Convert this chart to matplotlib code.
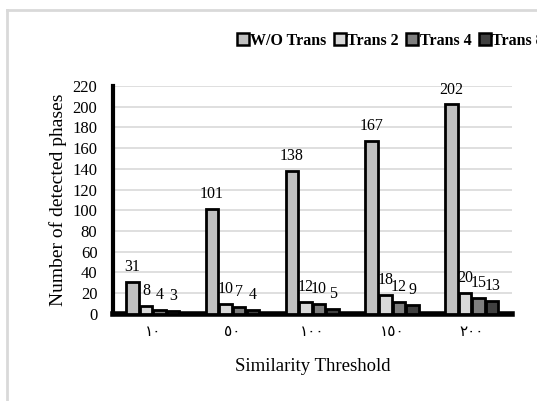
import matplotlib
matplotlib.use("Agg")
import matplotlib.pyplot as plt
from matplotlib.lines import Line2D
import numpy as np

# data
thresholds = ["١٠", "٥٠", "١٠٠", "١٥٠", "٢٠٠"]
series_names = ["W/O Trans", "Trans 2", "Trans 4", "Trans 8"]
wo_trans = [31, 101, 138, 167, 202]
trans_2 = [8, 10, 12, 18, 20]
trans_4 = [4, 7, 10, 12, 15]
trans_8 = [3, 4, 5, 9, 13]

colors = ["#c0c0c0", "#d9d9d9", "#7f7f7f", "#404040"]
serif = ["Liberation Serif", "DejaVu Sans"]

plt.rcParams["font.family"] = serif

fig = plt.figure(figsize=(5.37, 4.01), dpi=100)
ax = fig.add_axes([0.210, 0.217, 0.743, 0.569])

x = np.arange(len(thresholds))
w = 0.17
all_series = [wo_trans, trans_2, trans_4, trans_8]
for i, vals in enumerate(all_series):
    pos = x + (i - 1.5) * w
    ax.bar(pos, vals, width=w * 0.92, color=colors[i], edgecolor="black",
           linewidth=2, zorder=3, label=series_names[i])
    for xp, v in zip(pos, vals):
        ax.annotate(str(v), (xp, v), xytext=(0, 5), textcoords="offset points",
                    ha="center", va="bottom", fontsize=11.5, family=serif)

ax.set_ylim(0, 220)
ax.set_xlim(-0.5, len(thresholds) - 0.5)
ax.set_yticks(range(0, 221, 20))
ax.set_xticks(x)
ax.set_xticklabels(thresholds, family=serif)
ax.tick_params(axis="both", length=0, labelsize=12)
ax.tick_params(axis="y", pad=11)
ax.tick_params(axis="x", pad=9, labelsize=11)
ax.grid(axis="y", color="#d9d9d9", linewidth=1.2, zorder=0)

for s in ["top", "right"]:
    ax.spines[s].set_visible(False)
ax.spines["left"].set_linewidth(3)
ax.spines["bottom"].set_linewidth(4)

ax.set_ylabel("Number of detected phases", fontsize=14, labelpad=4)
ax.set_xlabel("Similarity Threshold", fontsize=13.5, labelpad=13)

handles = [Line2D([], [], marker="s", linestyle="none", markersize=8,
                  markerfacecolor=c, markeredgecolor="black", markeredgewidth=1.8)
           for c in colors]
fig.legend(handles, series_names, loc="center left", bbox_to_anchor=(0.442, 1 - 41 / 401),
           ncol=4, frameon=False, handlelength=0.7, handletextpad=0.1,
           columnspacing=0.5, borderaxespad=0, borderpad=0,
           prop={"weight": "bold", "size": 11.5, "family": serif})

# light grey chart border (only top/left visible in the crop)
fig.add_artist(Line2D([7 / 537, 7 / 537], [0, 1 - 10 / 401], color="#d9d9d9", linewidth=2))
fig.add_artist(Line2D([7 / 537, 1], [1 - 10 / 401, 1 - 10 / 401], color="#d9d9d9", linewidth=2))

fig.savefig("out.png", dpi=100)
